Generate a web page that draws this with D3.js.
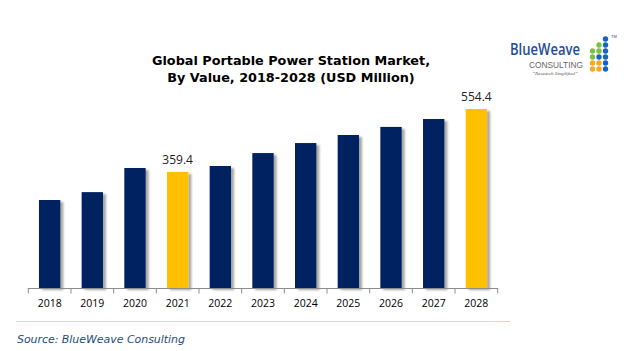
<!DOCTYPE html>
<html><head><meta charset="utf-8">
<script src="https://cdn.jsdelivr.net/npm/d3@7/dist/d3.min.js"></script>
<style>body{margin:0;background:#fff}svg{display:block}</style>
</head><body>
<script>
const years = ["2018","2019","2020","2021","2022","2023","2024","2025","2026","2027","2028"];
const values = [272.6, 297.0, 371.7, 359.4, 378.0, 418.0, 449.0, 474.0, 499.0, 523.5, 554.4];
const highlighted = ["2021","2028"];
const labelled = ["2021","2028"];

const W = 637, H = 351;
const svg = d3.select("body").append("svg").attr("width", W).attr("height", H);
const defs = svg.append("defs");
const f = defs.append("filter").attr("id","sh").attr("x","-20%").attr("y","-5%").attr("width","160%").attr("height","110%");
f.append("feDropShadow").attr("dx",3).attr("dy",2).attr("stdDeviation",1.2).attr("flood-color","#000").attr("flood-opacity",0.35);

const x = d3.scaleBand().domain(years).range([28.3, 497.7]).paddingInner(0.5).paddingOuter(0.25);
const y = d3.scaleLinear().domain([0, 600]).range([288, 288 - 600 * 0.3228]);

// title
const t = svg.append("text").attr("text-anchor","middle").attr("font-family","DejaVu Sans").attr("font-weight","bold").attr("font-size",12.8).attr("fill","#000");
t.append("tspan").attr("x",291).attr("y",65).text("Global Portable Power Station Market,");
t.append("tspan").attr("x",291).attr("y",82).text("By Value, 2018-2028 (USD Million)");

// bars
svg.append("g").selectAll("rect").data(years).join("rect")
  .attr("x", d => x(d)).attr("width", x.bandwidth())
  .attr("y", (d,i) => y(values[i])).attr("height", (d,i) => y(0) - y(values[i]))
  .attr("fill", d => highlighted.includes(d) ? "#FFC000" : "#002060")
  .attr("filter","url(#sh)");

// data labels
svg.append("g").selectAll("text").data(years.filter(d => labelled.includes(d))).join("text")
  .attr("x", d => x(d) + x.bandwidth()/2)
  .attr("y", d => y(values[years.indexOf(d)]) - 8)
  .attr("text-anchor","middle").attr("font-family","Open Sans").attr("font-size",12).attr("fill","#222")
  .text(d => values[years.indexOf(d)].toFixed(1));

// axis
const ax = svg.append("g").attr("transform",`translate(0,${y(0)})`)
  .call(d3.axisBottom(x).tickSize(0).tickPadding(12));
ax.select(".domain").attr("stroke","#8c8c8c").attr("d", `M${x.range()[0]},0.5H${x.range()[1]}`);
ax.selectAll("text").attr("font-family","Open Sans").attr("font-size",10.5).attr("fill","#000");
const half = (x.step() - x.bandwidth())/2;
const bounds = years.map(d => x(d) - half).concat([x(years[years.length-1]) + x.bandwidth() + half]);
ax.selectAll(".bt").data(bounds).join("line").attr("class","bt")
  .attr("x1", d => d).attr("x2", d => d).attr("y1", 0).attr("y2", 5.5).attr("stroke","#8c8c8c");

// yellow separator
svg.append("line").attr("x1",16).attr("x2",510).attr("y1",321.5).attr("y2",321.5).attr("stroke","#f4ee1a").attr("stroke-width",1.2);

// source
svg.append("text").attr("x",17).attr("y",343).attr("font-family","DejaVu Sans").attr("font-style","italic").attr("font-size",11).attr("fill","#1f4e79").attr("textLength",168).text("Source: BlueWeave Consulting");

// logo
const lg = svg.append("g");
lg.append("text").attr("x",510).attr("y",54.5).attr("font-family","Open Sans").attr("font-weight","600").attr("font-size",15.5).attr("fill","#1c4d9c").attr("textLength",70).attr("lengthAdjust","spacingAndGlyphs").text("BlueWeave");
lg.append("text").attr("x",529).attr("y",67.5).attr("font-family","Liberation Sans").attr("font-size",9).attr("fill","#666").attr("textLength",54).attr("lengthAdjust","spacingAndGlyphs").text("CONSULTING");
lg.append("text").attr("x",555).attr("y",74.5).attr("text-anchor","middle").attr("font-family","Liberation Serif").attr("font-style","italic").attr("font-size",5).attr("fill","#555").text("“Research Simplified”");
const B="#1565c0", G="#7cc242", O="#f7a823";
const dots = [
  [2,0,B],
  [1,1,G],[2,1,B],
  [0,2,G],[1,2,G],[2,2,B],
  [0,3,G],[1,3,B],[2,3,B],
  [0,4,O],[1,4,O],[2,4,B],
  [0,5,O],[1,5,O],[2,5,B]
];
lg.selectAll("circle").data(dots).join("circle")
  .attr("cx", d => 592.5 + d[0]*6.5).attr("cy", d => 39 + d[1]*6).attr("r",2.7).attr("fill", d => d[2]);
lg.append("text").attr("x",611).attr("y",38).attr("font-family","Liberation Sans").attr("font-size",4).attr("fill","#444").text("TM");
</script>
</body></html>
